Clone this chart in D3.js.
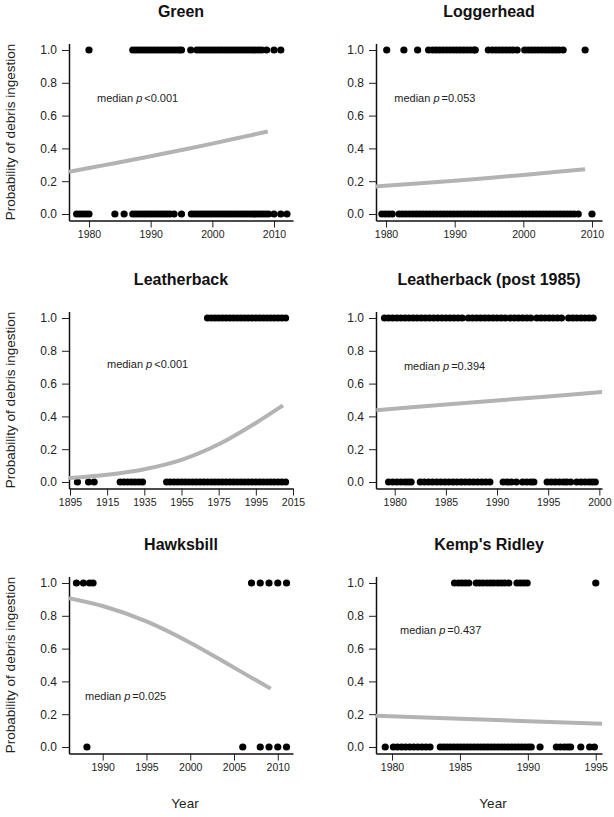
<!DOCTYPE html>
<html><head><meta charset="utf-8">
<script src="https://cdn.jsdelivr.net/npm/d3@7"></script>
<style>
body{margin:0;background:#fff;}
svg{display:block;font-family:"Liberation Sans",Arial,Helvetica,sans-serif;}
</style></head><body>
<svg id="chart" width="614" height="817"></svg>
<script>
// ---------- data ----------
const titles = ["Green", "Loggerhead", "Leatherback", "Leatherback (post 1985)", "Hawksbill", "Kemp's Ridley"];
const pValues = ["<0.001", "=0.053", "<0.001", "=0.394", "=0.025", "=0.437"];
const yTicks = [0, 0.2, 0.4, 0.6, 0.8, 1.0];
const xTicks = [
  [1980, 1990, 2000, 2010],
  [1980, 1990, 2000, 2010],
  [1895, 1915, 1935, 1955, 1975, 1995, 2015],
  [1980, 1985, 1990, 1995, 2000],
  [1990, 1995, 2000, 2005, 2010],
  [1980, 1985, 1990, 1995]
];
const xLimits = [
  [1976.76, 2013.08],
  [1978.54, 2011.46],
  [1894.46, 2015.0],
  [1978.17, 2000.26],
  [1986.15, 2011.74],
  [1978.82, 1995.46]
];

// observed ingestion (1) and no ingestion (0), by year
const greenYes = [1980.0,
  1987.1, 1987.6, 1988.1, 1988.6, 1989.1, 1989.6, 1990.1, 1990.6, 1991.1, 1991.6, 1992.1, 1992.6, 1993.1, 1993.6, 1994.1, 1994.6, 1995.0,
  1996.5,
  1997.5, 1998.0, 1998.5, 1999.0, 1999.5, 2000.0, 2000.5, 2001.0, 2001.5, 2002.0, 2002.5, 2003.0, 2003.5, 2004.0, 2004.5, 2005.0, 2005.5, 2006.0, 2006.5, 2007.0, 2007.5, 2008.0, 2008.8,
  2010.0, 2011.1];
const greenNo = [1978.0, 1978.5, 1979.0, 1979.5, 1980.0,
  1984.2, 1985.7,
  1987.1, 1987.6, 1988.1, 1988.6, 1989.1, 1989.6, 1990.1, 1990.6, 1991.1, 1991.6, 1992.1, 1992.6, 1993.1, 1993.8,
  1995.0,
  1996.6, 1997.1, 1997.6, 1998.1, 1998.6, 1999.1, 1999.6, 2000.1, 2000.6, 2001.1, 2001.6, 2002.1, 2002.6, 2003.1, 2003.6, 2004.1, 2004.6, 2005.1, 2005.6, 2006.1, 2006.6, 2007.1, 2007.6, 2008.1, 2008.6, 2009.1,
  2010.0, 2011.1, 2012.1];

const loggerYes = [1980.1, 1982.6, 1984.6,
  1986.2, 1986.8, 1987.3, 1987.8, 1988.3, 1988.8, 1989.3, 1989.8, 1990.3, 1990.8, 1991.3, 1991.8, 1992.3, 1992.8, 1993.0,
  1994.9, 1995.5, 1996.0, 1996.5, 1997.0, 1997.5, 1998.0, 1998.5, 1999.1,
  2000.2, 2000.7, 2001.2, 2001.7, 2002.2, 2002.7, 2003.2, 2003.7, 2004.2, 2004.7, 2005.2, 2005.8,
  2009.0];
const loggerNo = [1979.4, 1979.9, 1980.4, 1980.9,
  1981.9, 1982.4, 1982.9, 1983.4, 1983.9, 1984.4, 1984.9, 1985.4, 1985.9, 1986.4, 1986.9, 1987.4, 1987.9, 1988.4, 1988.9,
  1989.4, 1989.9, 1990.4, 1990.9, 1991.4, 1991.9, 1992.4, 1992.9, 1993.4, 1993.9, 1994.4, 1994.9, 1995.4, 1995.9,
  1996.4, 1996.9, 1997.4, 1997.9, 1998.4, 1998.9, 1999.4, 1999.9, 2000.4, 2000.9, 2001.4, 2001.9, 2002.4, 2002.9,
  2003.4, 2003.9, 2004.4, 2004.9, 2005.4, 2005.9, 2006.4, 2006.9, 2007.4, 2008.0,
  2010.0];

const leatherYes = [1969, 1971, 1973, 1975, 1977, 1979, 1981, 1983, 1985, 1987, 1989, 1991, 1993, 1995, 1997, 1999, 2001, 2003, 2005, 2007, 2009, 2011];
const leatherNo = [1899, 1905, 1908, 1922, 1924, 1926, 1928, 1930, 1932, 1934, 1947, 1949, 1951, 1953, 1955, 1957, 1959, 1961, 1963, 1965, 1967, 1969, 1971, 1973, 1975, 1977, 1979, 1981, 1983, 1985, 1987, 1989, 1991, 1993, 1995, 1997, 1999, 2001, 2003, 2005, 2007, 2009, 2011];

const leatherPostYes = [1979.0, 1979.4, 1979.8, 1980.2, 1980.6, 1981.0, 1981.4, 1981.8, 1982.2, 1982.6, 1983.0, 1983.4, 1983.8, 1984.2, 1984.6, 1985.0, 1985.4, 1985.8, 1986.2, 1986.6, 1987.2, 1987.6, 1988.0, 1988.4, 1988.8, 1989.2, 1989.6, 1990.0, 1990.4, 1990.8, 1991.3, 1991.7, 1992.1, 1992.5, 1992.9, 1993.3, 1993.9, 1994.3, 1994.7, 1995.1, 1995.5, 1995.9, 1996.3, 1997.0, 1997.4, 1997.8, 1998.2, 1998.6, 1999.0, 1999.4];
const leatherPostNo = [1979.4, 1979.8, 1980.2, 1980.6, 1981.0, 1981.3, 1981.6, 1982.5, 1982.9, 1983.3, 1983.7, 1984.1, 1984.5, 1984.9, 1985.3, 1985.7, 1986.1, 1986.5, 1986.9, 1987.3, 1987.7, 1988.1, 1988.5, 1988.9, 1989.3, 1990.6, 1991.0, 1991.4, 1991.9, 1992.5, 1992.9, 1993.3, 1993.6, 1994.9, 1995.3, 1995.7, 1996.1, 1996.5, 1996.8, 1997.2, 1997.8, 1998.2, 1998.6, 1999.0, 1999.3, 1999.6];

const hawksYes = [1987.0, 1987.8, 1988.5, 1988.9, 2007.0, 2008.0, 2009.0, 2010.0, 2011.0];
const hawksNo = [1988.2, 2006.0, 2008.0, 2009.0, 2010.0, 2011.0];

const kempYes = [1984.6, 1984.9, 1985.15, 1985.4, 1985.65, 1986.2, 1986.45, 1986.7, 1987.0, 1987.25, 1987.5, 1987.8, 1988.05, 1988.3, 1988.6, 1989.2, 1989.45, 1989.7, 1989.95, 1995.0];
const kempNo = [1979.5, 1980.1, 1980.4, 1980.7, 1981.0, 1981.3, 1981.6, 1981.9, 1982.2, 1982.5, 1982.8,
  1983.55, 1983.8, 1984.05, 1984.3, 1984.55, 1984.8, 1985.05, 1985.3, 1985.55, 1985.8, 1986.05, 1986.3, 1986.55, 1986.8, 1987.05, 1987.3, 1987.55, 1987.8, 1988.05, 1988.3, 1988.55, 1988.8, 1989.05, 1989.3, 1989.55, 1989.8, 1990.05, 1990.25,
  1990.9, 1992.1, 1992.4, 1992.7, 1992.95, 1993.15, 1993.9, 1994.55, 1994.9];

// fitted probability curves
const greenCurveYears = [1976.76, 1980, 1985, 1990, 1995, 2000, 2005, 2009];
const greenCurveP = [0.258, 0.281, 0.315, 0.352, 0.39, 0.429, 0.47, 0.503];
const loggerCurveYears = [1978.5, 1985, 1990, 1995, 2000, 2005, 2009];
const loggerCurveP = [0.168, 0.187, 0.203, 0.22, 0.238, 0.257, 0.273];
const leatherCurveYears = [1894.5, 1915, 1935, 1955, 1975, 1995, 2009.6];
const leatherCurveP = [0.024, 0.044, 0.078, 0.135, 0.23, 0.36, 0.467];
const leatherPostCurveYears = [1978.2, 1985, 1990, 1995, 2000.5];
const leatherPostCurveP = [0.438, 0.472, 0.497, 0.522, 0.55];
const hawksCurveYears = [1986.15, 1990, 1995, 2000, 2005, 2009.2];
const hawksCurveP = [0.908, 0.86, 0.766, 0.636, 0.484, 0.356];
const kempCurveYears = [1978.8, 1985, 1990, 1995.6];
const kempCurveP = [0.19, 0.172, 0.157, 0.142];

const yesSets = [greenYes, loggerYes, leatherYes, leatherPostYes, hawksYes, kempYes];
const noSets = [greenNo, loggerNo, leatherNo, leatherPostNo, hawksNo, kempNo];
const curveYears = [greenCurveYears, loggerCurveYears, leatherCurveYears, leatherPostCurveYears, hawksCurveYears, kempCurveYears];
const curveP = [greenCurveP, loggerCurveP, leatherCurveP, leatherPostCurveP, hawksCurveP, kempCurveP];

// ---------- layout ----------
const colX = [[69, 293], [376, 602]];
const rowY = [[214, 50], [482, 318], [747, 583]]; // pixel of p=0, p=1
const annotAt = [[1981.3, 0.707], [1981.2, 0.707], [1914.9, 0.718], [1980.9, 0.707], [1987.98, 0.311], [1980.59, 0.713]];

const svg = d3.select("#chart");

titles.forEach((title, i) => {
  const col = i % 2, row = Math.floor(i / 2);
  const [l, r] = colX[col];
  const [b0, t1] = rowY[row];
  const yp = d3.scaleLinear().domain([0, 1]).range([b0, t1]);
  const y = d3.scaleLinear().domain([-0.04, 1.04]).range([yp(-0.04), yp(1.04)]);
  const x = d3.scaleLinear().domain(xLimits[i]).range([l, r]);
  const g = svg.append("g");

  const clipId = "clip" + i;
  g.append("clipPath").attr("id", clipId).append("rect")
    .attr("x", l).attr("y", y(1.04)).attr("width", r - l).attr("height", y(-0.04) - y(1.04));

  // title
  g.append("text").attr("x", (l + r) / 2).attr("y", yp(1) - 33.5)
    .attr("text-anchor", "middle").attr("font-weight", "bold").attr("font-size", 16).attr("fill", "#111")
    .text(title);

  // axes
  const gy = g.append("g").attr("transform", `translate(${l},0)`)
    .call(d3.axisLeft(y).tickValues(yTicks).tickFormat(d3.format(".1f")).tickSize(7).tickSizeOuter(0).tickPadding(5));
  gy.attr("font-family", null);
  gy.selectAll("text").attr("font-size", 12).attr("fill", "#222");
  gy.select(".domain").attr("stroke-width", 1.5).attr("stroke", "#111");
  gy.selectAll(".tick line").attr("stroke", "#222");

  const gx = g.append("g").attr("transform", `translate(0,${y(-0.04)})`)
    .call(d3.axisBottom(x).tickValues(xTicks[i]).tickFormat(d3.format("d")).tickSize(7).tickSizeOuter(0).tickPadding(3));
  gx.attr("font-family", null);
  gx.selectAll("text").attr("font-size", 10.5).attr("fill", "#222");
  gx.select(".domain").attr("stroke-width", 1.5).attr("stroke", "#111");
  gx.selectAll(".tick line").attr("stroke", "#222");

  // points
  const pts = yesSets[i].map(v => ({ yr: v, p: 1 })).concat(noSets[i].map(v => ({ yr: v, p: 0 })));
  g.append("g").selectAll("circle").data(pts).join("circle")
    .attr("cx", d => x(d.yr)).attr("cy", d => yp(d.p)).attr("r", 3.6).attr("fill", "#000");

  // curve
  const cdata = curveYears[i].map((v, k) => [v, curveP[i][k]]);
  g.append("path").datum(cdata)
    .attr("clip-path", `url(#${clipId})`)
    .attr("d", d3.line().x(d => x(d[0])).y(d => yp(d[1])).curve(d3.curveMonotoneX))
    .attr("fill", "none").attr("stroke", "#b3b3b3").attr("stroke-width", 4);

  // annotation
  const a = annotAt[i];
  const t = g.append("text").attr("x", x(a[0])).attr("y", yp(a[1]) + 4)
    .attr("font-size", 11).attr("fill", "#222");
  t.append("tspan").text("median ");
  t.append("tspan").attr("font-style", "italic").text("p");
  t.append("tspan").attr("dx", 2).text(pValues[i]);

  // axis titles
  if (col === 0) {
    g.append("text").attr("transform", `translate(15,${yp(0.5)}) rotate(-90)`)
      .attr("text-anchor", "middle").attr("font-size", 13.5).attr("fill", "#222")
      .text("Probability of debris ingestion");
  }
  if (row === 2) {
    g.append("text").attr("x", (l + r) / 2 + 4).attr("y", 808)
      .attr("text-anchor", "middle").attr("font-size", 13.5).attr("fill", "#222")
      .text("Year");
  }
});
</script>
</body></html>
